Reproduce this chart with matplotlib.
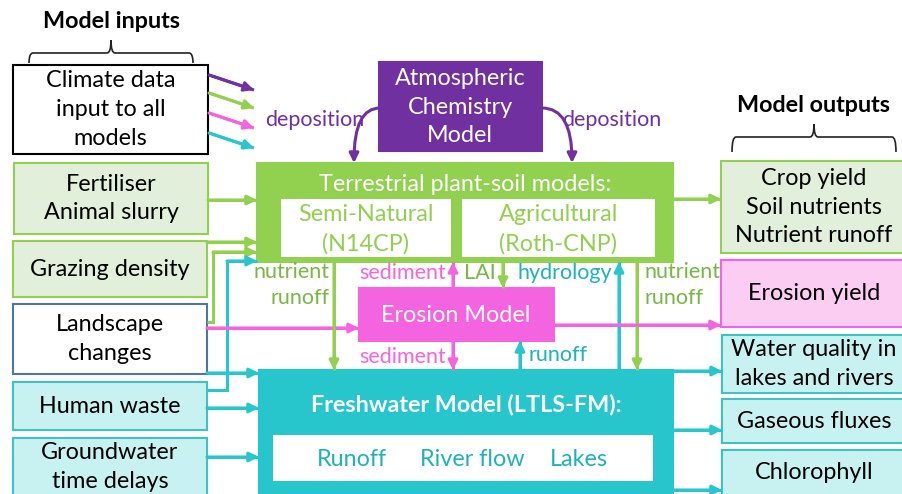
import matplotlib
matplotlib.use("Agg")
import matplotlib.pyplot as plt
from matplotlib.patches import Rectangle, FancyArrowPatch, PathPatch
from matplotlib.path import Path

plt.rcParams['font.family'] = ['Lato', 'DejaVu Sans']

# --- text content ---
input_labels = ["Climate data\ninput to all\nmodels", "Fertiliser\nAnimal slurry", "Grazing density",
                "Landscape\nchanges", "Human waste", "Groundwater\ntime delays"]
output_labels = ["Crop yield\nSoil nutrients\nNutrient runoff", "Erosion yield",
                 "Water quality in\nlakes and rivers", "Gaseous fluxes", "Chlorophyll"]
terr_title = "Terrestrial plant-soil models:"
terr_parts = ["Semi-Natural\n(N14CP)", "Agricultural\n(Roth-CNP)"]
fw_title = "Freshwater Model (LTLS-FM):"
fw_parts = ["Runoff", "River flow", "Lakes"]

PURPLE = '#7030a0'
GREEN = '#92d050'
GREEN_TXT = '#76b843'
PINK = '#f564e0'
CYAN = '#26c6cc'
CYAN_TXT = '#1fb2ba'
LGREEN = '#e2efda'
LPINK = '#fbcdf3'
LCYAN = '#c8f2f2'

fig = plt.figure(figsize=(9.03, 4.94), dpi=100)
ax = fig.add_axes([0, 0, 1, 1])
ax.set_xlim(0, 903)
ax.set_ylim(494, 0)
ax.axis('off')


def box(x0, y0, x1, y1, fc, ec, lw=1.5, z=2):
    ax.add_patch(Rectangle((x0, y0), x1 - x0, y1 - y0, facecolor=fc, edgecolor=ec, lw=lw, zorder=z))


def arrow(pts, color, lw=2.2):
    xs = [p[0] for p in pts]
    ys = [p[1] for p in pts]
    ax.plot(xs, ys, color=color, lw=lw, solid_capstyle='butt', solid_joinstyle='miter', zorder=3)
    ax.add_patch(FancyArrowPatch(pts[-2], pts[-1], arrowstyle='-|>', mutation_scale=14,
                                 color=color, lw=lw, shrinkA=0, shrinkB=0, zorder=4))


def brace(x0, x1, ytop, ybot, ypeak):
    xm = (x0 + x1) / 2
    verts = [(x0, ybot), (x0, ytop), (x0 + 4, ytop),
             (xm - 4, ytop), (xm, ytop), (xm, ypeak),
             (xm, ytop), (xm + 4, ytop),
             (x1 - 4, ytop), (x1, ytop), (x1, ybot)]
    codes = [Path.MOVETO, Path.CURVE3, Path.CURVE3,
             Path.LINETO, Path.CURVE3, Path.CURVE3,
             Path.CURVE3, Path.CURVE3,
             Path.LINETO, Path.CURVE3, Path.CURVE3]
    ax.add_patch(PathPatch(Path(verts, codes), fill=False, lw=1.2, color='#222222'))


FS = 16.8
SFS = 15.5
LS = 1.45

# --- headers ---
ax.text(112, 22, "Model inputs", ha='center', va='center', fontsize=FS, fontweight='bold')
brace(29, 193, 53, 63, 40)
ax.text(814, 105, "Model outputs", ha='center', va='center', fontsize=FS, fontweight='bold')
brace(732, 896, 137, 152, 124)

# --- input boxes ---
in_boxes = [(13, 65, 208, 154, 'white', 'black'),
            (14, 163, 208, 234, LGREEN, GREEN),
            (13, 241, 207, 297, LGREEN, GREEN),
            (13, 304, 207, 374, 'white', '#4f74a8'),
            (13, 382, 207, 430, LCYAN, '#3cc4c4'),
            (13, 438, 207, 500, LCYAN, '#3cc4c4')]
for (x0, y0, x1, y1, fc, ec), lab in zip(in_boxes, input_labels):
    box(x0, y0, x1, y1, fc, ec)
    yc = (y0 + y1) / 2 if y1 < 494 else 467
    ax.text((x0 + x1) / 2, yc, lab, ha='center', va='center', fontsize=FS,
            linespacing=LS, zorder=5)

# --- output boxes ---
out_boxes = [(721, 161, 910, 253, LGREEN, GREEN),
             (721, 260, 910, 327, LPINK, PINK),
             (722, 335, 910, 393, LCYAN, '#3cc4c4'),
             (722, 399, 910, 443, LCYAN, '#3cc4c4'),
             (722, 450, 910, 500, LCYAN, '#3cc4c4')]
for (x0, y0, x1, y1, fc, ec), lab in zip(out_boxes, output_labels):
    box(x0, y0, x1, y1, fc, ec)
    yc = (y0 + y1) / 2 if y1 < 494 else 472
    ax.text(814, yc, lab, ha='center', va='center', fontsize=FS, linespacing=LS, zorder=5)

# --- atmospheric model ---
box(379, 62, 542, 151, PURPLE, PURPLE)
ax.text(460, 107, "Atmospheric\nChemistry\nModel", ha='center', va='center', fontsize=FS,
        color='white', linespacing=LS, zorder=5)

# --- terrestrial ---
box(257, 163, 673, 262, GREEN, GREEN)
ax.text(465, 184, terr_title, ha='center', va='center', fontsize=FS, color='white', zorder=5)
for (x0, x1), lab in zip([(281, 451), (462, 655)], terr_parts):
    box(x0, 199, x1, 257, 'white', 'white', lw=0)
    ax.text((x0 + x1) / 2, 229, lab, ha='center', va='center', fontsize=FS, color=GREEN,
            linespacing=LS, zorder=5)

# --- erosion ---
box(359, 288, 554, 341, PINK, PINK)
ax.text(456, 315, "Erosion Model", ha='center', va='center', fontsize=FS, color='white', zorder=5)

# --- freshwater ---
box(259, 370, 673, 500, CYAN, CYAN)
ax.text(466, 404, fw_title, ha='center', va='center', fontsize=FS, color='white',
        fontweight='bold', zorder=5)
box(273, 435, 653, 481, 'white', 'white', lw=0)
for xc, lab in zip([352, 472, 579], fw_parts):
    ax.text(xc, 459, lab, ha='center', va='center', fontsize=FS, color=CYAN_TXT, zorder=5)

# --- climate arrows ---
for y, c in zip([75, 93, 113, 133], [PURPLE, GREEN, PINK, CYAN]):
    arrow([(209, y), (254, y + 15)], c)

# --- deposition ---
for start, end, tx in [((380, 108), (354, 163), 315), ((542, 108), (572, 163), 612)]:
    ax.add_patch(FancyArrowPatch(start, end, connectionstyle="angle3,angleA=0,angleB=90",
                                 arrowstyle='-|>', mutation_scale=14, color=PURPLE, lw=2.2,
                                 shrinkA=0, shrinkB=0, zorder=4))
    ax.text(tx, 120, "deposition", ha='center', va='center', fontsize=SFS, color=PURPLE)

# --- inputs to models ---
arrow([(208, 200), (257, 200)], GREEN)
arrow([(207, 242), (257, 242)], GREEN)
arrow([(207, 322), (213, 322), (213, 252), (257, 252)], GREEN)
arrow([(207, 390), (227, 390), (227, 261), (257, 261)], CYAN)
arrow([(207, 328), (359, 328)], PINK)
arrow([(207, 373), (259, 373)], CYAN)
arrow([(207, 408), (259, 408)], CYAN)
arrow([(207, 457), (259, 457)], CYAN)

# --- internal flows ---
arrow([(334, 262), (334, 370)], GREEN)
arrow([(637, 262), (637, 370)], GREEN)
arrow([(453, 288), (453, 262)], PINK)
arrow([(453, 341), (453, 370)], PINK)
arrow([(503, 262), (503, 288)], GREEN)
arrow([(619, 370), (619, 262)], CYAN)
arrow([(520, 370), (520, 341)], CYAN)

ax.text(330, 272, "nutrient", ha='right', va='center', fontsize=SFS, color=GREEN_TXT)
ax.text(330, 298, "runoff", ha='right', va='center', fontsize=SFS, color=GREEN_TXT)
ax.text(645, 272, "nutrient", ha='left', va='center', fontsize=SFS, color=GREEN_TXT)
ax.text(645, 298, "runoff", ha='left', va='center', fontsize=SFS, color=GREEN_TXT)
ax.text(446, 273, "sediment", ha='right', va='center', fontsize=SFS, color=PINK)
ax.text(446, 357, "sediment", ha='right', va='center', fontsize=SFS, color=PINK)
ax.text(496, 273, "LAI", ha='right', va='center', fontsize=SFS, color=GREEN_TXT)
ax.text(612, 273, "hydrology", ha='right', va='center', fontsize=SFS, color=CYAN_TXT)
ax.text(529, 355, "runoff", ha='left', va='center', fontsize=SFS, color=CYAN_TXT)

# --- outputs ---
arrow([(673, 199), (721, 199)], GREEN)
arrow([(554, 325), (721, 325)], PINK)
arrow([(673, 371), (722, 371)], CYAN)
arrow([(673, 430), (722, 430)], CYAN)
arrow([(673, 490), (722, 490)], CYAN)

fig.savefig("out.png", dpi=100)
